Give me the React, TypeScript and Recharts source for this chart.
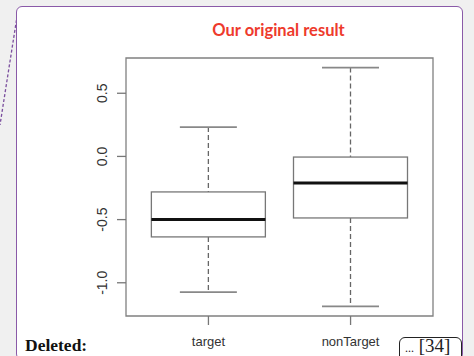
import React from 'react';
import { ComposedChart, Bar, XAxis, YAxis, ReferenceArea } from 'recharts';

// boxplot stats
const categories = ['target', 'nonTarget'];
const positions = [1, 2];
const lowerWhisker = [-1.074, -1.187];
const lowerQuartile = [-0.637, -0.487];
const medians = [-0.5, -0.21];
const upperQuartile = [-0.281, -0.005];
const upperWhisker = [0.232, 0.703];
const yTicks = [-1, -0.5, 0, 0.5];
const yDomain: [number, number] = [-1.263, 0.779];
const xDomain: [number, number] = [0.42, 2.58];

const data = categories.map((name, i) => ({
    name,
    pos: positions[i],
    lo: lowerWhisker[i],
    q1: lowerQuartile[i],
    med: medians[i],
    q3: upperQuartile[i],
    hi: upperWhisker[i],
}));

const axisFont = '"Liberation Sans", Arial, sans-serif';

function BoxShape(props: any) {
    const { x, y, width, height, payload } = props;
    const top = Math.min(y, y + height);
    const h = Math.abs(height);
    const k = h / (payload.q3 - payload.q1);
    const py = (v: number) => top + (payload.q3 - v) * k;
    const cx = x + width / 2;
    const cap = width / 4;
    return (
        <g>
            <line x1={cx} x2={cx} y1={py(payload.hi)} y2={py(payload.q3)} stroke="#666" strokeWidth={1.3} strokeDasharray="5 3" />
            <line x1={cx} x2={cx} y1={py(payload.q1)} y2={py(payload.lo)} stroke="#666" strokeWidth={1.3} strokeDasharray="5 3" />
            <line x1={cx - cap} x2={cx + cap} y1={py(payload.hi)} y2={py(payload.hi)} stroke="#888" strokeWidth={1.8} />
            <line x1={cx - cap} x2={cx + cap} y1={py(payload.lo)} y2={py(payload.lo)} stroke="#888" strokeWidth={1.8} />
            <rect x={x} y={top} width={width} height={h} fill="none" stroke="#777" strokeWidth={1.3} />
            <line x1={x} x2={x + width} y1={py(payload.med)} y2={py(payload.med)} stroke="#111" strokeWidth={3} />
        </g>
    );
}

function YTick({ x, y, payload }: any) {
    const cx = x - 15;
    const label = payload.value.toFixed(1);
    return (
        <text x={cx} y={y} textAnchor="middle" dominantBaseline="central" transform={`rotate(-90 ${cx} ${y})`}
            fill="#333" fontSize={14} fontFamily={axisFont}>
            {label}
        </text>
    );
}

function XTick({ x, y, payload }: any) {
    const idx = positions.indexOf(payload.value);
    return (
        <text x={x} y={y + 16} textAnchor="middle" dominantBaseline="central" fill="#333" fontSize={13} fontFamily={axisFont}>
            {categories[idx]}
        </text>
    );
}

export default function App() {
    return (
        <div style={{ position: 'absolute', left: 0, top: 0, width: 474, height: 356, overflow: 'hidden', background: '#f0f0f0' }}>
            <svg width={20} height={130} style={{ position: 'absolute', left: 0, top: 0 }}>
                <line x1={16.5} y1={20} x2={0} y2={125} stroke="#7b4f9e" strokeWidth={1.3} strokeDasharray="3 2" />
            </svg>
            <div style={{
                position: 'absolute', left: 16, top: 6, width: 445, height: 352,
                border: '1.5px solid #8a5aa8', borderRadius: 6, background: '#fff',
            }} />
            <div style={{
                position: 'absolute', left: 0, top: 19, width: 557, textAlign: 'center',
                color: '#ee3a2c', fontWeight: 700, fontSize: 16.5, fontFamily: 'Lato, sans-serif',
                lineHeight: '22px',
            }}>
                Our original result
            </div>
            <div style={{ position: 'absolute', left: 0, top: 0 }}>
                <ComposedChart width={474} height={356} data={data}
                    margin={{ top: 58, right: 41, bottom: 0, left: 0 }}>
                    <XAxis dataKey="pos" type="number" domain={xDomain} ticks={positions} allowDataOverflow
                        axisLine={false} tickSize={9} tickMargin={0} tickLine={{ stroke: '#777', strokeWidth: 1.3 }}
                        height={40} tick={<XTick />} interval={0} />
                    <YAxis type="number" domain={yDomain} ticks={yTicks} allowDataOverflow width={126}
                        axisLine={false} tickSize={9} tickMargin={0} tickLine={{ stroke: '#777', strokeWidth: 1.3 }}
                        tick={<YTick />} interval={0} />
                    <ReferenceArea x1={xDomain[0]} x2={xDomain[1]} y1={yDomain[0]} y2={yDomain[1]}
                        fill="none" stroke="#808080" strokeWidth={1.3} ifOverflow="visible" />
                    <Bar dataKey={(d: any) => [d.q1, d.q3]} barSize={114} shape={<BoxShape />} isAnimationActive={false} />
                </ComposedChart>
            </div>
            <div style={{
                position: 'absolute', left: 25, top: 335, fontFamily: '"Liberation Serif", serif',
                fontWeight: 700, fontSize: 17.5, color: '#111', lineHeight: '20px',
            }}>
                Deleted:
            </div>
            <div style={{
                position: 'absolute', left: 399, top: 337, width: 63, height: 26,
                border: '1.3px solid #222', borderRadius: 6, background: '#fff',
                boxSizing: 'border-box',
            }}>
                <span style={{
                    position: 'absolute', left: 5, top: -3, fontFamily: '"Liberation Serif", serif',
                    fontSize: 19, color: '#222', lineHeight: '22px', whiteSpace: 'nowrap',
                }}>
                    <span style={{ fontSize: 12 }}>...</span> [34]
                </span>
            </div>
        </div>
    );
}
